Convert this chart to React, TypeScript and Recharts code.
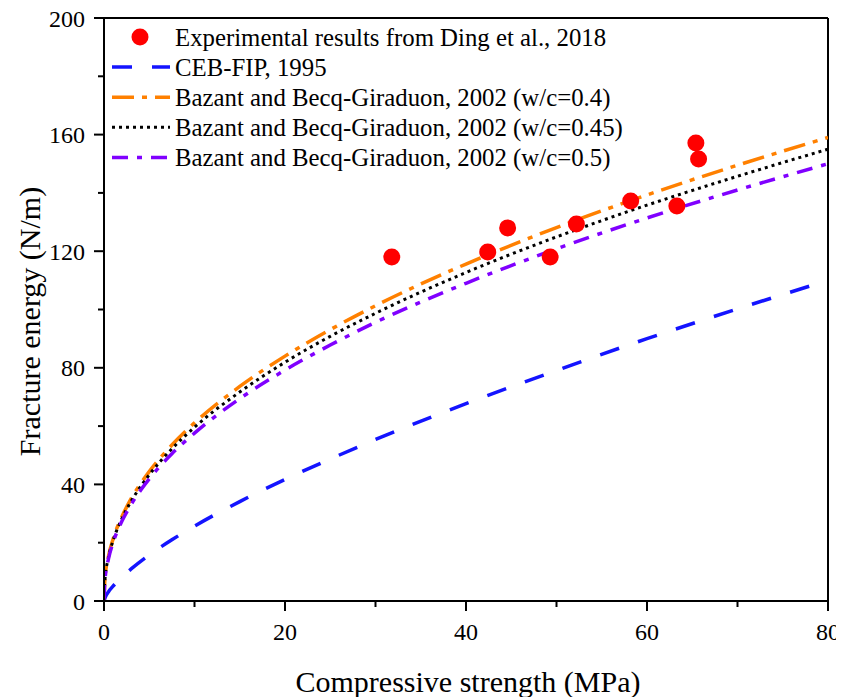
import {
  ComposedChart,
  Line,
  Scatter,
  XAxis,
  YAxis,
  ReferenceLine,
} from "recharts";

// compressive strength (MPa) sampled along the model curves
const strength = [0, 0.1, 0.5, 1, 2, 3, 5, 7.5, 10, 15, 20, 25, 30, 40, 50, 60, 70, 80];
const cebFip = [0, 1.0, 3.2, 5.1, 8.3, 11.0, 15.8, 21.0, 25.7, 34.1, 41.7, 48.7, 55.4, 67.7, 79.1, 90.0, 100.2, 110];
const bazant040 = [0, 7.4, 15.4, 21.2, 29.1, 35.1, 44.4, 53.5, 61.1, 73.6, 84.0, 93.1, 101.3, 115.6, 128.1, 139.3, 149.5, 159];
const bazant045 = [0, 7.2, 15.0, 20.7, 28.4, 34.2, 43.3, 52.2, 59.6, 71.7, 81.9, 90.8, 98.7, 112.7, 124.9, 135.8, 145.7, 155];
const bazant050 = [0, 7.0, 14.5, 20.0, 27.5, 33.1, 41.9, 50.5, 57.6, 69.4, 79.2, 87.8, 95.6, 109.0, 120.8, 131.4, 141.0, 150];

// experimental points (Ding et al., 2018)
const expStrength = [31.8, 42.4, 44.6, 49.3, 52.2, 58.2, 63.3, 65.4, 65.7];
const expEnergy = [118.0, 119.7, 128.0, 118.0, 129.3, 137.2, 135.5, 157.1, 151.6];

const xTicks = [0, 10, 20, 30, 40, 50, 60, 70, 80];
const yTicks = [0, 20, 40, 60, 80, 100, 120, 140, 160, 180, 200];

const FONT = "'Liberation Serif', 'Times New Roman', serif";

const toSeries = (ys: number[]) => strength.map((x, i) => ({ x, y: ys[i] }));
const expData = expStrength.map((x, i) => ({ x, y: expEnergy[i] }));

const series = [
  { name: "CEB-FIP, 1995", data: toSeries(cebFip), color: "#1414ff", dash: "20 20", width: 3.5 },
  { name: "Bazant and Becq-Giraduon, 2002 (w/c=0.4)", data: toSeries(bazant040), color: "#ff8000", dash: "22 8 5 8", width: 3.5 },
  { name: "Bazant and Becq-Giraduon, 2002 (w/c=0.45)", data: toSeries(bazant045), color: "#000000", dash: "3 4", width: 3 },
  { name: "Bazant and Becq-Giraduon, 2002 (w/c=0.5)", data: toSeries(bazant050), color: "#8000ff", dash: "16 9 5 9", width: 3.5 },
];

function XTick(props: any) {
  const { x, y, payload } = props;
  const major = payload.value % 20 === 0;
  return (
    <g>
      <line x1={x} y1={y} x2={x} y2={y + (major ? 10 : 6)} stroke="#000" strokeWidth={2} />
      {major && (
        <text x={x} y={y + 39} textAnchor="middle" fontFamily={FONT} fontSize={24} fill="#000">
          {payload.value}
        </text>
      )}
    </g>
  );
}

function YTick(props: any) {
  const { x, y, payload } = props;
  const major = payload.value % 40 === 0;
  return (
    <g>
      <line x1={x} y1={y} x2={x - (major ? 10 : 6)} y2={y} stroke="#000" strokeWidth={2} />
      {major && (
        <text x={x - 19} y={y + 8.5} textAnchor="end" fontFamily={FONT} fontSize={24} fill="#000">
          {payload.value}
        </text>
      )}
    </g>
  );
}

function YTitle(props: any) {
  const { viewBox } = props;
  const cx = viewBox.x + 21;
  const cy = viewBox.y + viewBox.height / 2 + 12;
  return (
    <text
      x={cx}
      y={cy}
      transform={`rotate(-90 ${cx} ${cy})`}
      textAnchor="middle"
      dominantBaseline="central"
      fontFamily={FONT}
      fontSize={30}
      fill="#000"
    >
      Fracture energy (N/m)
    </text>
  );
}

function XTitle(props: any) {
  const { viewBox } = props;
  return (
    <text
      x={viewBox.x + viewBox.width / 2 + 2}
      y={viewBox.y + 91}
      textAnchor="middle"
      fontFamily={FONT}
      fontSize={30}
      fill="#000"
    >
      Compressive strength (MPa)
    </text>
  );
}

function LegendBox() {
  const rowH = 30.1;
  return (
    <svg width={560} height={170} style={{ display: "block" }}>
      <circle cx={32} cy={15} r={8.5} fill="#ff0000" />
      <text x={67} y={23.5} fontFamily={FONT} fontSize={24.8} fill="#000">
        Experimental results from Ding et al., 2018
      </text>
      {series.map((s, i) => {
        const cy = 15 + rowH * (i + 1);
        return (
          <g key={s.name}>
            <line x1={4} y1={cy} x2={62} y2={cy} stroke={s.color} strokeWidth={s.width} strokeDasharray={s.dash} />
            <text x={67} y={cy + 8.5} fontFamily={FONT} fontSize={24.8} fill="#000">
              {s.name}
            </text>
          </g>
        );
      })}
    </svg>
  );
}

export default function App() {
  return (
    <div style={{ position: "relative", width: 836, height: 689, background: "#fff" }}>
      <ComposedChart width={836} height={689} margin={{ top: 10, right: 16, left: 0, bottom: 0 }}>
        <XAxis
          type="number"
          dataKey="x"
          domain={[0, 80]}
          ticks={xTicks}
          interval={0}
          allowDataOverflow
          height={96}
          tickSize={0}
          tickMargin={0}
          tickLine={false}
          tick={<XTick />}
          axisLine={{ stroke: "#000", strokeWidth: 2 }}
          label={<XTitle />}
        />
        <YAxis
          type="number"
          dataKey="y"
          domain={[0, 200]}
          ticks={yTicks}
          interval={0}
          allowDataOverflow
          width={96}
          tickSize={0}
          tickMargin={0}
          tickLine={false}
          tick={<YTick />}
          axisLine={{ stroke: "#000", strokeWidth: 2 }}
          label={<YTitle />}
        />
        <ReferenceLine y={200} stroke="#000" strokeWidth={2} ifOverflow="visible" />
        <ReferenceLine x={80} stroke="#000" strokeWidth={2} ifOverflow="visible" />
        {series.map((s) => (
          <Line
            key={s.name}
            data={s.data}
            dataKey="y"
            name={s.name}
            type="monotone"
            stroke={s.color}
            strokeWidth={s.width}
            strokeDasharray={s.dash}
            dot={false}
            activeDot={false}
            isAnimationActive={false}
          />
        ))}
        <Scatter
          data={expData}
          dataKey="y"
          name="Experimental results from Ding et al., 2018"
          fill="#ff0000"
          shape={(p: any) => <circle cx={p.cx} cy={p.cy} r={8.5} fill="#ff0000" />}
          isAnimationActive={false}
        />
      </ComposedChart>
      <div style={{ position: "absolute", top: 14, left: 100 }}>
        <LegendBox />
      </div>
    </div>
  );
}
